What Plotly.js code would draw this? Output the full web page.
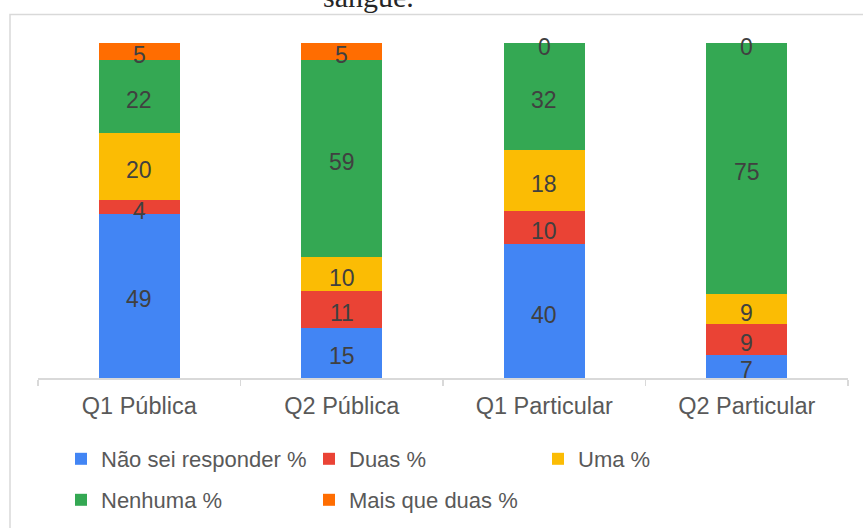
<!DOCTYPE html>
<html>
<head>
<meta charset="utf-8">
<script src="https://cdn.plot.ly/plotly-3.0.1.min.js"></script>
<style>html,body{margin:0;padding:0;background:#fff;}#chart{width:863px;height:528px;}</style>
</head>
<body>
<div id="chart"></div>
<script>
// ---- data ----
const categories = ["Q1 Pública", "Q2 Pública", "Q1 Particular", "Q2 Particular"];
const seriesNames = ["Não sei responder %", "Duas %", "Uma %", "Nenhuma %", "Mais que duas %"];
const naoSei     = [49, 15, 40, 7];
const duas       = [4, 11, 10, 9];
const uma        = [20, 10, 18, 9];
const nenhuma    = [22, 59, 32, 75];
const maisQueDuas = [5, 5, 0, 0];
const titleText = "sangue.";

// ---- styles ----
const seriesValues = [naoSei, duas, uma, nenhuma, maisQueDuas];
const colors = ["#4285F4", "#EA4335", "#FBBC04", "#34A853", "#FF6D01"];
const legendIds = ["legend", "legend2", "legend3", "legend4", "legend5"];
const legendPos = [[61, 459], [309, 459], [538, 459], [61, 500], [309, 500]]; // px in container

const traces = [];
seriesValues.forEach((vals, i) => {
  traces.push({
    type: "bar",
    name: seriesNames[i],
    x: categories,
    y: vals,
    marker: {color: colors[i], line: {width: 0}},
    legend: legendIds[i],
    showlegend: true,
    hoverinfo: "x+y+name"
  });
});

// value labels centred on each segment, computed from the stacked data
const labelAnnotations = [];
categories.forEach((c, ci) => {
  let base = 0;
  seriesValues.forEach((vals) => {
    const v = vals[ci];
    labelAnnotations.push({
      x: c, y: base + v / 2, xref: "x", yref: "y",
      text: String(v), showarrow: false,
      xanchor: "center", yanchor: "middle", yshift: -3.5,
      font: {family: "Liberation Sans, Arial, sans-serif", size: 23, color: "#404040"}
    });
    base += v;
  });
});

const W = 863, H = 528;
const layout = {
  width: W, height: H,
  showlegend: true,
  margin: {l: 38, r: 15, t: 43, b: 150},
  paper_bgcolor: "#ffffff",
  plot_bgcolor: "#ffffff",
  barmode: "stack",
  bargap: 0.6,
  font: {family: "Liberation Sans, Arial, sans-serif", color: "#595959"},
  xaxis: {
    type: "category",
    showline: true, linecolor: "#d9d9d9", linewidth: 1.5,
    ticks: "outside", tickson: "boundaries", ticklen: 6, tickcolor: "#d9d9d9", tickwidth: 1.5,
    ticklabelstandoff: 6,
    tickfont: {size: 23.5, color: "#595959"},
    showgrid: false, zeroline: false, fixedrange: true
  },
  yaxis: {
    range: [0, 100], visible: false, showgrid: false, zeroline: false, fixedrange: true
  },
  annotations: [{
    text: titleText, xref: "paper", yref: "paper",
    x: (368 - 38) / 810, y: 1 + (43 + 3) / 335,
    xanchor: "center", yanchor: "middle", showarrow: false,
    font: {family: "Liberation Serif, Times New Roman, serif", size: 30, color: "#262626"}
  }].concat(labelAnnotations),
  shapes: [{
    type: "rect", xref: "paper", yref: "paper",
    x0: (10 - 38) / 810, x1: 1.2,
    y0: 1 + (43 - 14.5) / 335, y1: -1,
    line: {color: "#d9d9d9", width: 1.5}, fillcolor: "rgba(0,0,0,0)", layer: "below"
  }]
};
legendIds.forEach((id, i) => {
  layout[id] = {
    visible: true,
    orientation: "h",
    xref: "container", yref: "container",
    x: legendPos[i][0] / W, y: 1 - legendPos[i][1] / H,
    xanchor: "left", yanchor: "middle",
    bgcolor: "rgba(0,0,0,0)",
    font: {size: 22, color: "#595959"}
  };
});

Plotly.newPlot("chart", traces, layout, {displayModeBar: false, staticPlot: true});
</script>
</body>
</html>
